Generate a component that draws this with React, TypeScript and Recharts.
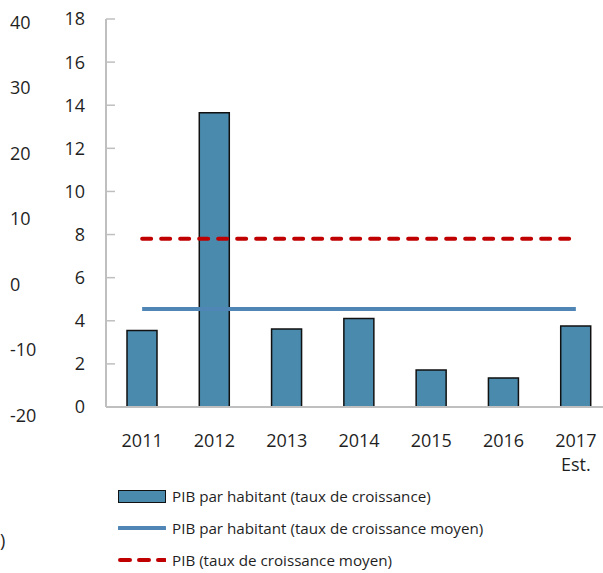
import { ComposedChart, Bar, Line, XAxis, YAxis, Legend } from "recharts";

const years = ["2011", "2012", "2013", "2014", "2015", "2016", "2017\nEst."];
const pibParHabitant = [3.55, 13.65, 3.62, 4.1, 1.72, 1.35, 3.76];
const pibParHabitantMoyen = 4.55;
const pibMoyen = 7.8;
const innerTicks = [0, 2, 4, 6, 8, 10, 12, 14, 16, 18];
const outerTicks = [-20, -10, 0, 10, 20, 30, 40];
const boundaryTicks = [1, 2, 3, 4, 5, 6];

const seriesNames = {
  bar: "PIB par habitant (taux de croissance)",
  avgHab: "PIB par habitant (taux de croissance moyen)",
  avgPib: "PIB (taux de croissance moyen)",
};
const legendOrder = ["croissance", "moyenHab", "moyenPib"];

const data = years.map((year, i) => ({
  year,
  croissance: pibParHabitant[i],
  moyenHab: pibParHabitantMoyen,
  moyenPib: pibMoyen,
}));

const FONT = "'Open Sans', sans-serif";
const TEXT = "#1f1f1f";
const GRAY = "#bfbfbf";
const BAR = "#4a8aad";
const BLUE = "#4f86b6";
const RED = "#c00000";

function YearTick(props: any) {
  const { x, y, payload } = props;
  const lines = String(payload.value).split("\n");
  return (
    <text x={x} y={y} textAnchor="middle" fill={TEXT} fontSize={18} fontFamily={FONT}>
      {lines.map((l, i) => (
        <tspan key={i} x={x} dy={i === 0 ? 32 : 24}>
          {l}
        </tspan>
      ))}
    </text>
  );
}

function OuterTick(props: any) {
  const { x, y, payload } = props;
  // the outer scale is spaced a little wider than the inner one
  const shift = 9.5 + (40 - payload.value) / 12;
  return (
    <text x={x - 46} y={y} dy={shift} fill={TEXT} fontSize={18} fontFamily={FONT}>
      {payload.value}
    </text>
  );
}

function LegendContent(props: any) {
  const payload = [...(props.payload || [])].sort(
    (a: any, b: any) => legendOrder.indexOf(a.dataKey) - legendOrder.indexOf(b.dataKey)
  );
  return (
    <div style={{ fontFamily: FONT, fontSize: 15.2, color: TEXT }}>
      {payload.map((entry: any, i: number) => {
        let icon;
        if (entry.dataKey === "croissance") {
          icon = (
            <div style={{ width: 46, height: 11, background: BAR, border: "1.5px solid #111" }} />
          );
        } else if (entry.dataKey === "moyenHab") {
          icon = (
            <svg width={48} height={12}>
              <line x1={1} y1={6} x2={47} y2={6} stroke={BLUE} strokeWidth={4} strokeLinecap="round" />
            </svg>
          );
        } else {
          icon = (
            <svg width={48} height={12}>
              <line x1={2} y1={6} x2={47} y2={6} stroke={RED} strokeWidth={4} strokeDasharray="10 9" strokeLinecap="round" />
            </svg>
          );
        }
        return (
          <div key={i} style={{ display: "flex", alignItems: "center", height: 32 }}>
            <div style={{ width: 48, display: "flex", alignItems: "center" }}>{icon}</div>
            <span style={{ marginLeft: 6, whiteSpace: "nowrap" }}>{entry.value}</span>
          </div>
        );
      })}
    </div>
  );
}

export default function App() {
  return (
    <div
      style={{
        position: "absolute",
        left: 0,
        top: 0,
        width: 603,
        height: 573,
        overflow: "hidden",
        background: "#fff",
        fontFamily: FONT,
      }}
    >
      <ComposedChart
        width={614}
        height={573}
        data={data}
        margin={{ top: 19, right: 2, bottom: 86, left: 0 }}
      >
        <XAxis
          xAxisId="bounds"
          type="number"
          domain={[0, 7]}
          ticks={boundaryTicks}
          tick={false}
          tickSize={-6}
          tickLine={{ stroke: GRAY, strokeWidth: 1.5 }}
          axisLine={false}
          height={0}
          allowDataOverflow
        />
        <XAxis
          xAxisId="cat"
          dataKey="year"
          tick={<YearTick />}
          tickLine={false}
          axisLine={{ stroke: GRAY, strokeWidth: 2 }}
          interval={0}
          height={80}
        />
        <YAxis
          yAxisId="inner"
          domain={[0, 18]}
          ticks={innerTicks}
          interval={0}
          tickSize={-9}
          tickMargin={30}
          tickLine={{ stroke: GRAY, strokeWidth: 1.5 }}
          axisLine={{ stroke: GRAY, strokeWidth: 2 }}
          tick={{ fill: TEXT, fontSize: 18, fontFamily: FONT }}
          width={50}
        />
        <YAxis
          yAxisId="outer"
          domain={[-20, 40]}
          ticks={outerTicks}
          interval={0}
          allowDataOverflow
          tickLine={false}
          axisLine={false}
          tickSize={0}
          tickMargin={0}
          tick={<OuterTick />}
          width={56}
        />
        <Bar
          xAxisId="cat"
          yAxisId="inner"
          dataKey="croissance"
          name={seriesNames.bar}
          fill={BAR}
          stroke="#111"
          strokeWidth={1.5}
          barSize={30}
          isAnimationActive={false}
        />
        <Line
          xAxisId="cat"
          yAxisId="inner"
          dataKey="moyenHab"
          name={seriesNames.avgHab}
          stroke={BLUE}
          strokeWidth={4}
          dot={false}
          activeDot={false}
          isAnimationActive={false}
        />
        <Line
          xAxisId="cat"
          yAxisId="inner"
          dataKey="moyenPib"
          name={seriesNames.avgPib}
          stroke={RED}
          strokeWidth={4}
          strokeDasharray="9 10"
          strokeLinecap="round"
          dot={false}
          activeDot={false}
          isAnimationActive={false}
        />
        <Legend
          layout="vertical"
          align="center"
          verticalAlign="middle"
          wrapperStyle={{ top: 480, left: 118, width: 460, height: 100 }}
          content={<LegendContent />}
        />
      </ComposedChart>
      <div
        style={{
          position: "absolute",
          left: 0,
          top: 528,
          fontFamily: FONT,
          fontSize: 18,
          color: TEXT,
        }}
      >
        )
      </div>
    </div>
  );
}
